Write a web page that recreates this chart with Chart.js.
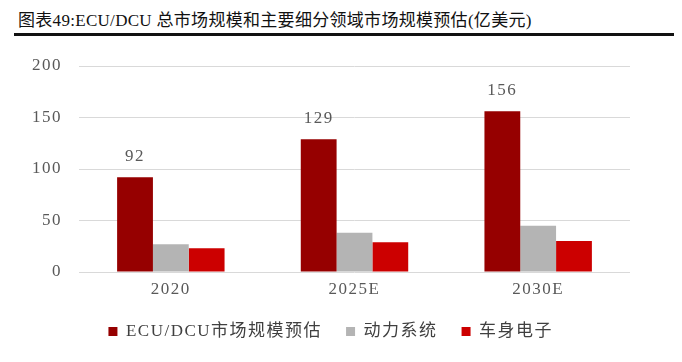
<!DOCTYPE html>
<html>
<head>
<meta charset="utf-8">
<script src="https://cdn.jsdelivr.net/npm/chart.js@4.4.0/dist/chart.umd.min.js"></script>
<style>
  html, body { margin: 0; padding: 0; background: #fff; }
  #wrap { position: relative; width: 682px; height: 362px; overflow: hidden; }
  #title { position: absolute; left: 18px; top: 6px; font-family: 'Liberation Serif', 'Noto Sans CJK SC', serif; font-size: 17px; color: #111; white-space: nowrap; letter-spacing: 0.3px; }
  #rule { position: absolute; left: 14px; right: 8px; top: 33px; height: 3px; background: #111; }
  canvas { position: absolute; left: 0; top: 0; }
</style>
</head>
<body>
<div id="wrap">
  <div id="title">图表49:ECU/DCU 总市场规模和主要细分领域市场规模预估(亿美元)</div>
  <div id="rule"></div>
  <canvas id="c" width="682" height="362"></canvas>
</div>
<script>
const categories = ['2020', '2025E', '2030E'];
const totalMarket = [92, 129, 156];
const powertrain = [27, 38, 45];
const bodyElectronics = [23, 29, 30];
const seriesNames = ['ECU/DCU市场规模预估', '动力系统', '车身电子'];
const yTicks = [0, 50, 100, 150, 200];

const FONT = "'Liberation Serif', 'Noto Sans CJK SC', serif";

const spacingPlugin = {
  id: 'spacing',
  beforeDraw(chart) { chart.ctx.letterSpacing = '1.5px'; }
};

const labelPlugin = {
  id: 'valueLabels',
  afterDatasetsDraw(chart) {
    const ctx = chart.ctx;
    const meta = chart.getDatasetMeta(0);
    ctx.save();
    ctx.letterSpacing = '1.5px';
    ctx.font = '17px ' + FONT;
    ctx.fillStyle = '#595959';
    ctx.textAlign = 'center';
    ctx.textBaseline = 'bottom';
    meta.data.forEach((bar, i) => {
      ctx.fillText(String(chart.data.datasets[0].data[i]), bar.x, bar.y - 12);
    });
    ctx.restore();
  }
};

new Chart(document.getElementById('c'), {
  type: 'bar',
  data: {
    labels: categories,
    datasets: [
      { label: seriesNames[0], data: totalMarket, backgroundColor: '#960000' },
      { label: seriesNames[1], data: powertrain, backgroundColor: '#b4b4b4' },
      { label: seriesNames[2], data: bodyElectronics, backgroundColor: '#cc0000' }
    ]
  },
  options: {
    responsive: false,
    animation: false,
    devicePixelRatio: 1,
    layout: { padding: { top: 66, right: 52, left: 0, bottom: 12 } },
    datasets: { bar: { categoryPercentage: 0.585, barPercentage: 1.0 } },
    scales: {
      x: {
        afterFit(scale) { scale.height = 27; },
        grid: { display: false, drawTicks: false },
        border: { display: false },
        ticks: { color: '#595959', font: { family: FONT, size: 17 }, padding: 7 }
      },
      y: {
        min: 0, max: 200,
        afterFit(scale) { scale.width = 79; },
        afterBuildTicks(scale) { scale.ticks = yTicks.map(v => ({ value: v })); },
        grid: { color: '#d9d9d9', lineWidth: 1, drawTicks: false },
        border: { display: false },
        ticks: { color: '#595959', font: { family: FONT, size: 17 }, padding: 17 }
      }
    },
    plugins: {
      legend: {
        position: 'bottom',
        labels: {
          color: '#404040',
          font: { family: FONT, size: 17 },
          boxWidth: 9, boxHeight: 9,
          padding: 24
        }
      },
      tooltip: { enabled: false }
    }
  },
  plugins: [spacingPlugin, labelPlugin]
});
</script>
</body>
</html>
